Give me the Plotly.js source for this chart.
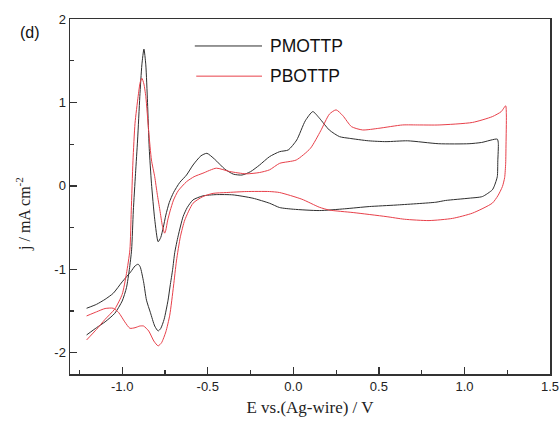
<!DOCTYPE html>
<html>
<head>
<meta charset="utf-8">
<script src="https://cdn.plot.ly/plotly-3.0.1.min.js"></script>
<style>html,body{margin:0;padding:0;background:#fff}#chart{width:560px;height:430px}</style>
</head>
<body>
<div id="chart"></div>
<script>
// PMOTTP (black) cyclic voltammogram: E (V) and j (mA cm^-2)
const pmottpE = [-1.208,-1.15,-1.10,-1.043,-1.00,-0.975,-0.958,-0.945,-0.935,-0.922,-0.910,-0.897,-0.885,-0.873,-0.862,-0.852,-0.842,-0.829,-0.81,-0.79,-0.775,-0.76,-0.745,-0.725,-0.70,-0.664,-0.624,-0.586,-0.54,-0.505,-0.46,-0.40,-0.35,-0.30,-0.25,-0.197,-0.139,-0.08,-0.03,0.02,0.07,0.114,0.153,0.21,0.27,0.327,0.44,0.542,0.668,0.85,1.027,1.10,1.192,
  1.198,1.195,1.192,1.175,1.163,1.105,1.027,0.89,0.833,0.6,0.444,0.3,0.152,0.0,-0.08,-0.139,-0.236,-0.353,-0.45,-0.528,-0.586,-0.62,-0.644,-0.673,-0.693,-0.705,-0.72,-0.732,-0.755,-0.775,-0.79,-0.81,-0.835,-0.858,-0.875,-0.895,-0.907,-0.925,-0.95,-1.0,-1.052,-1.10,-1.15,-1.208];
const pmottpJ = [-1.787,-1.70,-1.63,-1.527,-1.38,-1.22,-1.00,-0.767,-0.30,0.15,0.55,1.07,1.45,1.64,1.45,1.00,0.45,0.032,-0.40,-0.67,-0.62,-0.50,-0.35,-0.20,-0.08,0.04,0.13,0.25,0.36,0.39,0.32,0.20,0.14,0.13,0.17,0.25,0.35,0.41,0.43,0.55,0.78,0.89,0.81,0.67,0.59,0.57,0.54,0.53,0.54,0.505,0.505,0.52,0.56,
  0.51,0.30,0.11,0.0,-0.048,-0.128,-0.148,-0.175,-0.196,-0.23,-0.248,-0.275,-0.296,-0.28,-0.26,-0.208,-0.148,-0.108,-0.105,-0.12,-0.168,-0.26,-0.368,-0.60,-0.80,-1.0,-1.20,-1.37,-1.60,-1.71,-1.739,-1.68,-1.52,-1.37,-1.15,-0.97,-0.939,-0.96,-1.03,-1.15,-1.287,-1.36,-1.42,-1.467];

// PBOTTP (red) cyclic voltammogram
const pbottpE = [-1.208,-1.15,-1.10,-1.043,-1.00,-0.975,-0.955,-0.947,-0.937,-0.925,-0.907,-0.895,-0.885,-0.873,-0.862,-0.845,-0.829,-0.81,-0.795,-0.78,-0.765,-0.752,-0.745,-0.735,-0.72,-0.70,-0.673,-0.624,-0.58,-0.528,-0.45,-0.372,-0.275,-0.197,-0.139,-0.08,0.017,0.10,0.16,0.211,0.25,0.29,0.34,0.405,0.50,0.638,0.736,0.852,1.047,1.163,1.215,1.241,
  1.245,1.243,1.241,1.235,1.222,1.195,1.163,1.047,0.93,0.793,0.65,0.542,0.35,0.21,0.152,0.05,-0.08,-0.139,-0.275,-0.391,-0.469,-0.528,-0.586,-0.634,-0.66,-0.683,-0.70,-0.722,-0.745,-0.77,-0.79,-0.815,-0.845,-0.875,-0.897,-0.925,-0.955,-0.985,-1.02,-1.052,-1.10,-1.15,-1.208];
const pbottpJ = [-1.847,-1.72,-1.60,-1.475,-1.30,-1.05,-0.767,-0.30,0.30,0.75,1.07,1.24,1.29,1.22,1.07,0.65,0.31,0.11,-0.10,-0.288,-0.48,-0.567,-0.53,-0.42,-0.30,-0.17,-0.06,0.05,0.11,0.152,0.212,0.172,0.144,0.16,0.192,0.27,0.31,0.45,0.66,0.86,0.911,0.84,0.71,0.67,0.69,0.73,0.73,0.73,0.76,0.83,0.89,0.96,
  0.85,0.50,0.272,0.10,-0.008,-0.12,-0.207,-0.327,-0.39,-0.416,-0.40,-0.368,-0.32,-0.29,-0.256,-0.16,-0.08,-0.068,-0.068,-0.08,-0.09,-0.128,-0.208,-0.408,-0.61,-0.90,-1.20,-1.55,-1.75,-1.88,-1.918,-1.86,-1.74,-1.68,-1.68,-1.70,-1.707,-1.63,-1.52,-1.467,-1.47,-1.51,-1.559];

const seriesNames = ["PMOTTP", "PBOTTP"];
const xTickVals = [-1.0, -0.5, 0.0, 0.5, 1.0, 1.5];
const xTickText = ["-1.0", "-0.5", "0.0", "0.5", "1.0", "1.5"];
const yTickVals = [-2, -1, 0, 1, 2];
const yTickText = ["-2", "-1", "0", "1", "2"];

const black = '#2e2e2e';
const red = '#e8404a';

const traces = [
  {x: pmottpE, y: pmottpJ, name: seriesNames[0], mode: 'lines', line: {color: black, width: 1, shape: 'spline', smoothing: 0.6}},
  {x: pbottpE, y: pbottpJ, name: seriesNames[1], mode: 'lines', line: {color: red, width: 1, shape: 'spline', smoothing: 0.6}}
];

const axisCommon = {
  showgrid: false, zeroline: false, showline: true, mirror: true,
  linecolor: '#333', linewidth: 1.5,
  ticks: 'inside', ticklen: 7, tickwidth: 1.3, tickcolor: '#333',
  tickfont: {family: 'Liberation Sans, Arial, sans-serif', size: 13, color: '#222'}
};

const layout = {
  width: 560, height: 430,
  margin: {l: 70, r: 10, t: 19, b: 56},
  paper_bgcolor: '#fff', plot_bgcolor: '#fff',
  showlegend: false,
  xaxis: Object.assign({}, axisCommon, {
    range: [-1.305, 1.5], tickmode: 'array', tickvals: xTickVals, ticktext: xTickText,
    minor: {ticks: 'inside', ticklen: 4, tickwidth: 1.2, tickcolor: '#333', dtick: 0.25, tick0: 0},
    title: {text: 'E vs.(Ag-wire) / V', standoff: 8, font: {family: 'Liberation Serif, Times New Roman, serif', size: 17, color: '#222'}}
  }),
  yaxis: Object.assign({}, axisCommon, {
    range: [-2.255, 2], tickmode: 'array', tickvals: yTickVals, ticktext: yTickText,
    minor: {ticks: 'inside', ticklen: 4, tickwidth: 1.2, tickcolor: '#333', dtick: 0.5, tick0: 0}
  }),
  shapes: [
    {type: 'line', xref: 'paper', yref: 'paper', x0: 0.26, x1: 0.40, y0: 0.924, y1: 0.924, line: {color: black, width: 1}},
    {type: 'line', xref: 'paper', yref: 'paper', x0: 0.263, x1: 0.40, y0: 0.839, y1: 0.839, line: {color: red, width: 1}}
  ],
  annotations: [
    {text: seriesNames[0], xref: 'paper', yref: 'paper', x: 0.412, y: 0.924, xanchor: 'left', yanchor: 'middle', showarrow: false,
     font: {family: 'Liberation Sans, Arial, sans-serif', size: 17.5, color: '#111'}},
    {text: seriesNames[1], xref: 'paper', yref: 'paper', x: 0.412, y: 0.839, xanchor: 'left', yanchor: 'middle', showarrow: false,
     font: {family: 'Liberation Sans, Arial, sans-serif', size: 17.5, color: '#111'}},
    {text: '(d)', xref: 'paper', yref: 'paper', x: -0.083, y: 0.963, xanchor: 'center', yanchor: 'middle', showarrow: false,
     font: {family: 'Liberation Sans, Arial, sans-serif', size: 16, color: '#111'}},
    {text: 'j / mA cm<sup>-2</sup>', xref: 'paper', yref: 'paper', x: -0.097, y: 0.452, xanchor: 'center', yanchor: 'middle', textangle: -90, showarrow: false,
     font: {family: 'Liberation Serif, Times New Roman, serif', size: 16, color: '#222'}}
  ]
};

Plotly.newPlot('chart', traces, layout, {displayModeBar: false, staticPlot: true});
</script>
</body>
</html>
